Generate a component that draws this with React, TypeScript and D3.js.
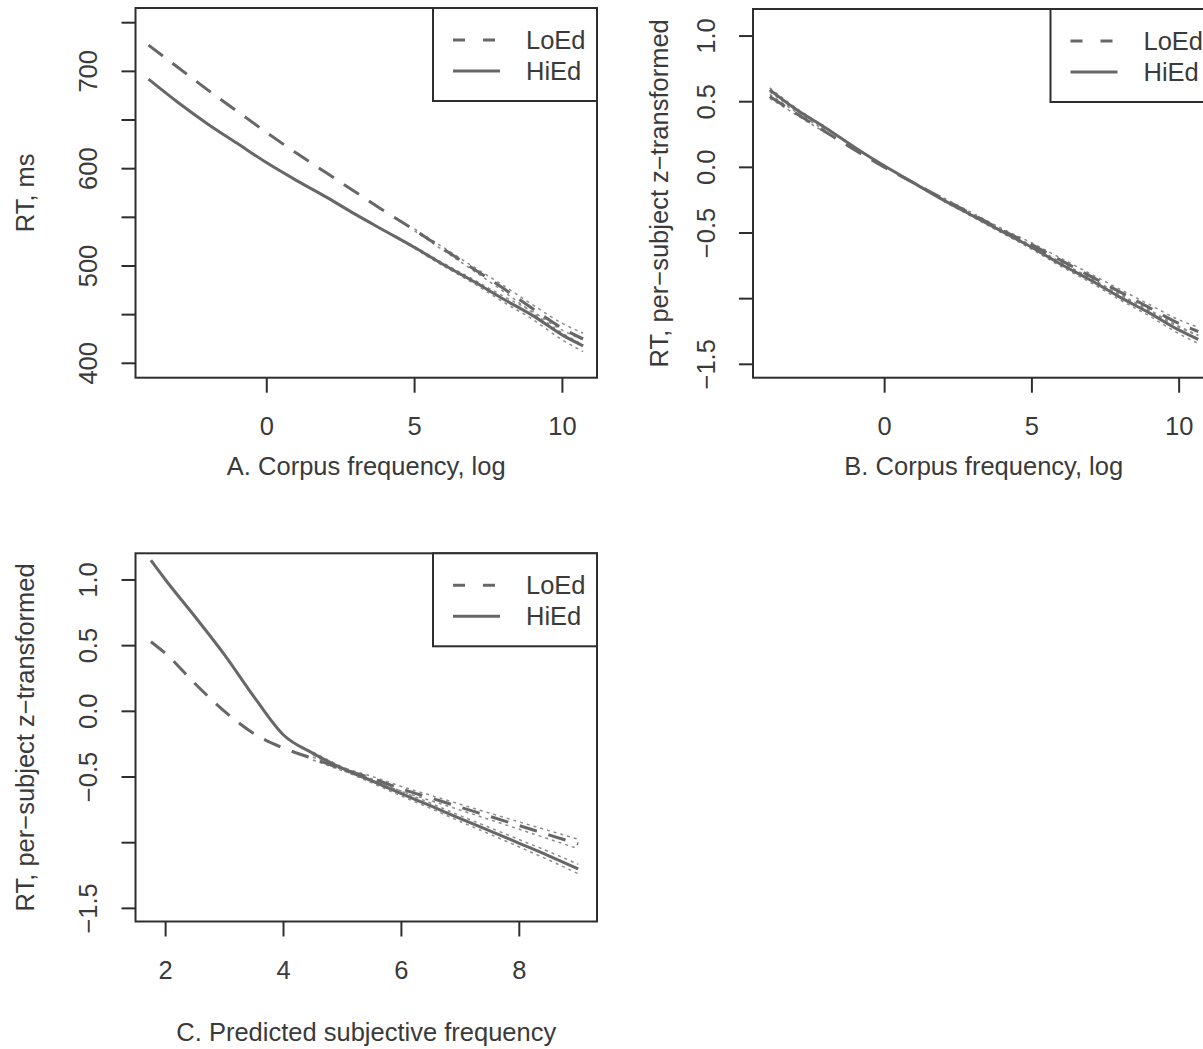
import React from "react";
import * as d3 from "d3";

// ---------- DATA ----------
// Panel A: RT (ms) vs corpus frequency (log)
const xA = [-4, -3, -2, -1, 0, 1, 2, 3, 4, 5, 6, 7, 8, 9, 10, 10.7];
const loEdA = [727, 704, 681, 659, 637, 616, 596, 576, 556, 537, 517, 497, 477, 456, 436, 425];
const hiEdA = [692, 668, 646, 626, 606, 588, 571, 553, 536, 519, 501, 484, 466, 449, 429, 418];
// CI half-widths (null = band not visible)
const ciA = [null, null, null, null, null, null, null, null, null, 1, 1.5, 2, 3, 4, 5, 6];

// Panel B: z-transformed RT vs corpus frequency (log)
const xB = [-3.9, -3, -2, -1, 0, 1, 2, 3, 4, 5, 6, 7, 8, 9, 10, 10.65];
const loEdB = [0.54, 0.41, 0.27, 0.13, 0.0, -0.12, -0.24, -0.36, -0.48, -0.59, -0.71, -0.83, -0.95, -1.07, -1.19, -1.25];
const hiEdB = [0.59, 0.44, 0.3, 0.15, 0.01, -0.12, -0.25, -0.37, -0.49, -0.61, -0.74, -0.86, -0.99, -1.11, -1.24, -1.31];
const ciB = [0.015, 0.01, 0.008, null, null, null, 0.008, 0.01, 0.012, 0.014, 0.016, 0.018, 0.02, 0.024, 0.028, 0.032];

// Panel C: z-transformed RT vs predicted subjective frequency
const xC = [1.75, 2, 2.5, 3, 3.5, 4, 4.5, 5, 5.5, 6, 6.5, 7, 7.5, 8, 8.5, 9];
const loEdC = [0.53, 0.44, 0.21, 0.0, -0.17, -0.28, -0.36, -0.44, -0.51, -0.59, -0.66, -0.73, -0.8, -0.87, -0.94, -1.01];
const hiEdC = [1.15, 1.0, 0.72, 0.43, 0.11, -0.18, -0.32, -0.435, -0.53, -0.627, -0.72, -0.817, -0.91, -1.005, -1.1, -1.2];
const ciC = [null, null, null, null, null, null, 0.01, 0.012, 0.015, 0.018, 0.02, 0.022, 0.025, 0.028, 0.032, 0.036];

// Ticks
const xTicksAB = [0, 5, 10];
const xTicksC = [2, 4, 6, 8];
const yTicksA = [400, 450, 500, 550, 600, 650, 700, 750];
const yLabelsA = [400, 500, 600, 700];
const yTicksZ = [-1.5, -1.0, -0.5, 0.0, 0.5, 1.0];
const yLabelsZ = [-1.5, -0.5, 0.0, 0.5, 1.0];

const seriesNames = ["LoEd", "HiEd"];
const xTitles = ["A. Corpus frequency, log", "B. Corpus frequency, log", "C. Predicted subjective frequency"];
const yTitles = ["RT, ms", "RT, per\u2212subject z\u2212transformed", "RT, per\u2212subject z\u2212transformed"];

// ---------- STYLE ----------
const FONT = "'Liberation Sans', Arial, Helvetica, sans-serif";
const FS = 25.5;
const TEXT = "#3a3a3a";
const BOX = "#2e2e2e";
const LINE = "#676767";
const DASH = "18 12";

const fmtZ = (v: number) => (v < 0 ? "\u2212" : "") + Math.abs(v).toFixed(1);
const fmtInt = (v: number) => String(v);

type PanelProps = {
  left: number;
  top: number;
  width: number;
  height: number;
  xDomain: [number, number];
  yDomain: [number, number];
  xs: number[];
  lo: number[];
  hi: number[];
  ci: (number | null)[];
  xTicks: number[];
  yTicks: number[];
  yLabels: number[];
  fmtY: (v: number) => string;
  xTitle: string;
  yTitle: string;
  yTitleOffset: number;
  xTitleOffset: number;
};

function Panel(p: PanelProps) {
  const x = d3.scaleLinear().domain(p.xDomain).range([p.left, p.left + p.width]);
  const y = d3.scaleLinear().domain(p.yDomain).range([p.top + p.height, p.top]);
  const bottom = p.top + p.height;
  const right = p.left + p.width;
  const line = d3
    .line<number | null>()
    .defined((d) => d !== null)
    .x((_, i) => x(p.xs[i]))
    .y((d) => y(d as number))
    .curve(d3.curveMonotoneX);

  const band = (vals: number[], sign: number) =>
    vals.map((v, i) => (p.ci[i] === null ? null : v + sign * (p.ci[i] as number)));

  const legW = 164;
  const legH = 93;
  const legL = right - legW;
  const legT = p.top;

  return (
    <g>
      {/* CI dotted lines */}
      {[p.lo, p.hi].map((s, k) =>
        [-1, 1].map((sg) => (
          <path
            key={`ci${k}${sg}`}
            d={line(band(s, sg)) || ""}
            fill="none"
            stroke="#8c8c8c"
            strokeWidth={1.5}
            strokeDasharray="3 4"
          />
        ))
      )}
      {/* main lines */}
      <path d={line(p.lo) || ""} fill="none" stroke={LINE} strokeWidth={3} strokeDasharray={DASH} />
      <path d={line(p.hi) || ""} fill="none" stroke={LINE} strokeWidth={3} />

      {/* box */}
      <rect x={p.left} y={p.top} width={p.width} height={p.height} fill="none" stroke={BOX} strokeWidth={2} />

      {/* x axis */}
      {p.xTicks.map((t) => (
        <g key={`xt${t}`}>
          <line x1={x(t)} x2={x(t)} y1={bottom} y2={bottom + 15} stroke={BOX} strokeWidth={2} />
          <text x={x(t)} y={bottom + 57.5} textAnchor="middle" fontFamily={FONT} fontSize={FS} fill={TEXT}>
            {String(t)}
          </text>
        </g>
      ))}
      <text
        x={(p.left + right) / 2}
        y={bottom + p.xTitleOffset}
        textAnchor="middle"
        fontFamily={FONT}
        fontSize={FS}
        fill={TEXT}
      >
        {p.xTitle}
      </text>

      {/* y axis */}
      {p.yTicks.map((t) => (
        <line key={`yt${t}`} x1={p.left - 14} x2={p.left} y1={y(t)} y2={y(t)} stroke={BOX} strokeWidth={2} />
      ))}
      {p.yLabels.map((t) => (
        <text
          key={`yl${t}`}
          transform={`translate(${p.left - 38.5},${y(t)}) rotate(-90)`}
          textAnchor="middle"
          fontFamily={FONT}
          fontSize={FS}
          fill={TEXT}
        >
          {p.fmtY(t)}
        </text>
      ))}
      <text
        transform={`translate(${p.left - p.yTitleOffset},${(p.top + bottom) / 2}) rotate(-90)`}
        textAnchor="middle"
        fontFamily={FONT}
        fontSize={FS}
        fill={TEXT}
      >
        {p.yTitle}
      </text>

      {/* legend */}
      <rect x={legL} y={legT} width={legW} height={legH} fill="#fff" stroke={BOX} strokeWidth={2} />
      {seriesNames.map((name, i) => {
        const ly = legT + 32 + i * 31;
        return (
          <g key={name}>
            <line
              x1={legL + 20}
              x2={legL + 67}
              y1={ly}
              y2={ly}
              stroke={LINE}
              strokeWidth={3}
              strokeDasharray={i === 0 ? "12 18" : undefined}
            />
            <text x={legL + 93} y={ly + 9} fontFamily={FONT} fontSize={FS} fill={TEXT}>
              {name}
            </text>
          </g>
        );
      })}
    </g>
  );
}

export default function App() {
  return (
    <svg
      width={1203}
      height={1049}
      style={{ position: "absolute", left: 0, top: 0, display: "block", background: "#fff" }}
    >
      <rect x={0} y={0} width={1203} height={1049} fill="#fff" />
      <Panel
        left={135.5}
        top={8}
        width={461.5}
        height={369.7}
        xDomain={[-4.44, 11.17]}
        yDomain={[385.2, 765.1]}
        xs={xA}
        lo={loEdA}
        hi={hiEdA}
        ci={ciA}
        xTicks={xTicksAB}
        yTicks={yTicksA}
        yLabels={yLabelsA}
        fmtY={fmtInt}
        xTitle={xTitles[0]}
        yTitle={yTitles[0]}
        yTitleOffset={101.5}
        xTitleOffset={97}
      />
      <Panel
        left={753}
        top={9}
        width={461.5}
        height={368.7}
        xDomain={[-4.47, 11.2]}
        yDomain={[-1.602, 1.206]}
        xs={xB}
        lo={loEdB}
        hi={hiEdB}
        ci={ciB}
        xTicks={xTicksAB}
        yTicks={yTicksZ}
        yLabels={yLabelsZ}
        fmtY={fmtZ}
        xTitle={xTitles[1]}
        yTitle={yTitles[1]}
        yTitleOffset={85}
        xTitleOffset={97}
      />
      <Panel
        left={135.5}
        top={553.3}
        width={461.5}
        height={368.2}
        xDomain={[1.489, 9.318]}
        yDomain={[-1.6, 1.203]}
        xs={xC}
        lo={loEdC}
        hi={hiEdC}
        ci={ciC}
        xTicks={xTicksC}
        yTicks={yTicksZ}
        yLabels={yLabelsZ}
        fmtY={fmtZ}
        xTitle={xTitles[2]}
        yTitle={yTitles[2]}
        yTitleOffset={101.5}
        xTitleOffset={119.5}
      />
    </svg>
  );
}
